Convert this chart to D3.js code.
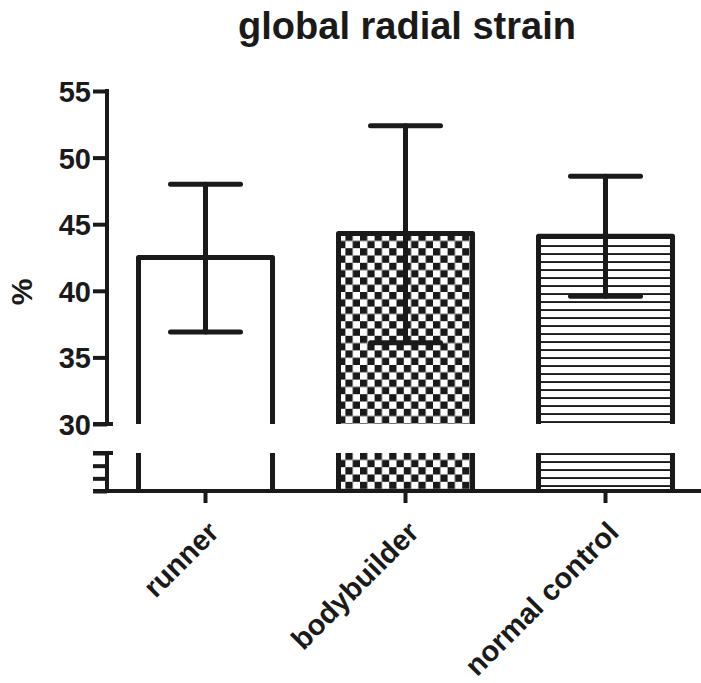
<!DOCTYPE html>
<html>
<head>
<meta charset="utf-8">
<script src="https://cdn.jsdelivr.net/npm/d3@7/dist/d3.min.js"></script>
<style>
  html, body { margin: 0; padding: 0; background: #fff; }
  svg { display: block; }
  text { font-family: "Liberation Sans", Arial, sans-serif; font-weight: bold; fill: #1a1a1a; }
</style>
</head>
<body>
<svg id="chart" width="701" height="683"></svg>
<script>
// ---- data ----
const categories = ["runner", "bodybuilder", "normal control"];
const means = [42.5, 44.3, 44.1];
const upperErr = [48.0, 52.4, 48.6];
const lowerErr = [36.9, 36.1, 39.6];
const fills = ["none", "checker", "hlines"];
const yTicks = [30, 35, 40, 45, 50, 55];
const lowerTicks = [0, 10, 20, 30];
const title = "global radial strain";
const yLabel = "%";

// ---- layout ----
const W = 701, H = 683;
const ink = "#1a1a1a";
const svg = d3.select("#chart");

const x = d3.scaleBand().domain(categories).range([105.5, 705.5]).paddingInner(0.33).paddingOuter(0.165);
const y = d3.scaleLinear().domain([30, 55]).range([424, 91]);
const yLow = d3.scaleLinear().domain([0, 30]).range([491, 453]);
const axisX = 107;

// patterns
const defs = svg.append("defs");
const pc = defs.append("pattern").attr("id", "checker").attr("patternUnits", "userSpaceOnUse")
  .attr("width", 14.6).attr("height", 14.6).attr("x", 141).attr("y", 0);
pc.append("rect").attr("width", 14.6).attr("height", 14.6).attr("fill", "#fff");
pc.append("rect").attr("x", 0).attr("y", 0).attr("width", 7.3).attr("height", 7.3).attr("fill", ink);
pc.append("rect").attr("x", 7.3).attr("y", 7.3).attr("width", 7.3).attr("height", 7.3).attr("fill", ink);
const ph = defs.append("pattern").attr("id", "hlines").attr("patternUnits", "userSpaceOnUse")
  .attr("width", 10).attr("height", 8).attr("y", 2);
ph.append("rect").attr("width", 10).attr("height", 8).attr("fill", "#fff");
ph.append("rect").attr("x", 0).attr("y", 3.1).attr("width", 10).attr("height", 1.9).attr("fill", ink);

// title
svg.append("text").attr("x", 407).attr("y", 39).attr("text-anchor", "middle")
  .attr("font-size", 38).text(title);

// y label
svg.append("text").attr("transform", "translate(32,292) rotate(-90)")
  .attr("text-anchor", "middle").attr("font-size", 30).text(yLabel);

// bars
const g = svg.append("g");
categories.forEach((c, i) => {
  const x0 = x(c), x1 = x(c) + x.bandwidth();
  const fill = fills[i] === "none" ? "#fff" : `url(#${fills[i]})`;
  g.append("rect").attr("x", x0).attr("y", y(means[i])).attr("width", x1 - x0)
    .attr("height", y(30) - y(means[i])).attr("fill", fill);
  g.append("rect").attr("x", x0).attr("y", yLow(30)).attr("width", x1 - x0)
    .attr("height", yLow(0) - yLow(30)).attr("fill", fill);
  g.append("path")
    .attr("d", `M${x0},${y(30)}L${x0},${y(means[i])}L${x1},${y(means[i])}L${x1},${y(30)}`)
    .attr("fill", "none").attr("stroke", ink).attr("stroke-width", 5).attr("stroke-linejoin", "round");
  g.append("path")
    .attr("d", `M${x0},${yLow(30)}L${x0},${yLow(0)}M${x1},${yLow(30)}L${x1},${yLow(0)}`)
    .attr("fill", "none").attr("stroke", ink).attr("stroke-width", 5);
  const cx = x0 + x.bandwidth() / 2;
  const eg = g.append("g").attr("stroke", ink).attr("stroke-width", 5).attr("stroke-linecap", "round").attr("fill", "none");
  eg.append("line").attr("x1", cx).attr("x2", cx).attr("y1", y(lowerErr[i])).attr("y2", y(upperErr[i]));
  eg.append("line").attr("x1", cx - 35).attr("x2", cx + 35).attr("y1", y(upperErr[i])).attr("y2", y(upperErr[i]));
  eg.append("line").attr("x1", cx - 35).attr("x2", cx + 35).attr("y1", y(lowerErr[i])).attr("y2", y(lowerErr[i]));
});

// y axis upper segment
const ya = svg.append("g").attr("transform", `translate(${axisX},0)`)
  .call(d3.axisLeft(y).tickValues(yTicks).tickSize(14).tickSizeOuter(0).tickPadding(2));
ya.select(".domain").remove();
ya.selectAll(".tick line").attr("stroke", ink).attr("stroke-width", 4);
ya.selectAll(".tick text").attr("font-size", 29).attr("font-family", "Liberation Sans, Arial, sans-serif")
  .attr("font-weight", "bold").attr("fill", ink).attr("dy", "0.36em");
svg.append("line").attr("x1", axisX).attr("x2", axisX).attr("y1", y(55) - 2).attr("y2", y(30))
  .attr("stroke", ink).attr("stroke-width", 4);
svg.append("line").attr("x1", axisX - 14).attr("x2", axisX + 6).attr("y1", y(30)).attr("y2", y(30))
  .attr("stroke", ink).attr("stroke-width", 4);

// y axis lower segment
const yl = svg.append("g").attr("transform", `translate(${axisX},0)`)
  .call(d3.axisLeft(yLow).tickValues(lowerTicks).tickSize(14).tickSizeOuter(0).tickFormat(""));
yl.select(".domain").remove();
yl.selectAll(".tick line").attr("stroke", ink).attr("stroke-width", 4);
svg.append("line").attr("x1", axisX).attr("x2", axisX).attr("y1", yLow(30)).attr("y2", yLow(0))
  .attr("stroke", ink).attr("stroke-width", 4);
svg.append("line").attr("x1", axisX - 14).attr("x2", axisX + 6).attr("y1", yLow(30)).attr("y2", yLow(30))
  .attr("stroke", ink).attr("stroke-width", 4);

// x axis
const xa = svg.append("g").attr("transform", `translate(0,${yLow(0)})`)
  .call(d3.axisBottom(x).tickSize(12).tickSizeOuter(0).tickFormat(""));
xa.select(".domain").remove();
xa.selectAll(".tick line").attr("stroke", ink).attr("stroke-width", 4);
svg.append("line").attr("x1", axisX - 14).attr("x2", W).attr("y1", yLow(0)).attr("y2", yLow(0))
  .attr("stroke", ink).attr("stroke-width", 4);

// x labels
categories.forEach(c => {
  const cx = x(c) + x.bandwidth() / 2;
  svg.append("text").attr("transform", `translate(${cx + 15},${534}) rotate(-45)`)
    .attr("text-anchor", "end").attr("font-size", 29).text(c);
});
</script>
</body>
</html>
